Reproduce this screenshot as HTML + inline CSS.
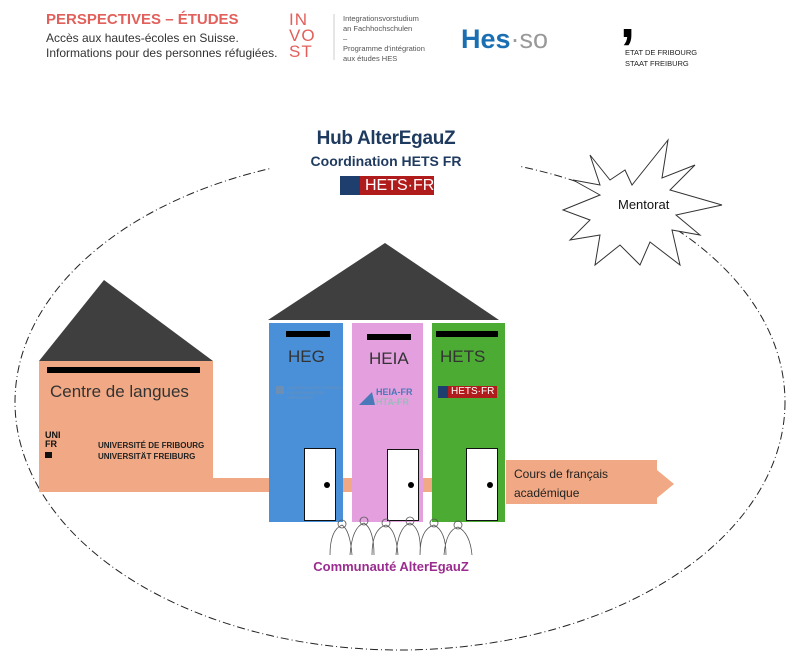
<!DOCTYPE html>
<html><head><meta charset="utf-8"><style>
body{margin:0;width:786px;height:656px;background:#fff;position:relative;overflow:hidden;font-family:"Liberation Sans",sans-serif}
.a{position:absolute;white-space:nowrap}
</style></head><body>
<svg class="a" style="left:0;top:0" width="786" height="656">
<ellipse cx="400" cy="402" rx="385" ry="248" fill="none" stroke="#222" stroke-width="1" stroke-dasharray="8,3,1,3"/>
<rect x="270" y="118" width="250" height="82" fill="#fff"/>
<polygon points="590,155 610,180 625,170 632,185 668,140 662,178 695,165 670,190 722,205 676,215 700,235 672,230 680,265 650,242 640,265 620,245 595,265 600,235 570,240 590,220 563,210 600,195 573,180 600,185" fill="#fff" stroke="#333" stroke-width="1"/>
<polygon points="104,280 39,361 213,361" fill="#3f3f3f"/>
<rect x="39" y="361" width="174" height="131" fill="#f0a984"/>
<rect x="47" y="367" width="153" height="6" fill="#000"/>
<rect x="213" y="478" width="57" height="14" fill="#f0a984"/>
<rect x="343" y="478" width="9" height="14" fill="#f0a984"/>
<rect x="423" y="478" width="9" height="14" fill="#f0a984"/>
<polygon points="385,243 268,320 499,320" fill="#3f3f3f"/>
<rect x="269" y="323" width="74" height="199" fill="#4a90d9"/>
<rect x="352" y="323" width="71" height="199" fill="#e4a0de"/>
<rect x="432" y="323" width="73" height="199" fill="#4cab32"/>
<rect x="286" y="331" width="44" height="6" fill="#000"/>
<rect x="367" y="334" width="44" height="6" fill="#000"/>
<rect x="436" y="331" width="62" height="6" fill="#000"/>
<g fill="#fff" stroke="#111" stroke-width="1">
<rect x="304.5" y="448.5" width="31" height="72"/>
<rect x="387.5" y="449.5" width="31" height="71"/>
<rect x="466.5" y="448.5" width="31" height="72"/>
</g>
<circle cx="327" cy="485" r="3" fill="#000"/><circle cx="411" cy="485" r="3" fill="#000"/><circle cx="490" cy="485" r="3" fill="#000"/>
<polygon points="506,460 657,460 657,470 674,484 657,498 657,504 506,504" fill="#f0a984"/>
<rect x="438" y="386" width="10" height="12" fill="#1e3f6e"/><rect x="448" y="386" width="49" height="12" fill="#b01c1c"/>
<rect x="340" y="176" width="20" height="19" fill="#1e3f6e"/><rect x="360" y="176" width="74" height="19" fill="#b01c1c"/>
<rect x="276" y="386" width="8" height="8" fill="#6d8fb4"/>
<polygon points="359,405 372,392 375,405" fill="#4a78b8"/>
<g fill="none" stroke="#555" stroke-width="0.8">
<path d="M330,555 q0,-25 12,-30 q8,5 10,30 M350,555 q2,-28 14,-32 q10,6 10,32 M372,555 q0,-26 14,-30 q10,4 12,30 M396,555 q2,-28 14,-32 q12,6 10,32 M420,555 q0,-26 14,-30 q12,6 12,30 M444,555 q2,-25 14,-28 q12,6 14,28"/>
<circle cx="342" cy="524" r="4"/><circle cx="364" cy="521" r="4"/><circle cx="386" cy="523" r="4"/><circle cx="410" cy="521" r="4"/><circle cx="434" cy="523" r="4"/><circle cx="458" cy="525" r="4"/>
</g>
<rect x="45" y="452" width="7" height="6" fill="#111"/>
<line x1="334" y1="14" x2="334" y2="60" stroke="#ccc"/>
</svg>
<div class="a" style="left:46px;top:11px;color:#e2605b;font-weight:bold;font-size:15px">PERSPECTIVES – ÉTUDES</div>
<div class="a" style="left:46px;top:31px;color:#333;font-size:12px;line-height:15px">Accès aux hautes-écoles en Suisse.<br>Informations pour des personnes réfugiées.</div>
<div class="a" style="left:289px;top:12px;color:#e2605b;font-size:17px;line-height:16px;letter-spacing:1px">IN<br>VO<br>ST</div>
<div class="a" style="left:343px;top:14px;color:#555;font-size:7.5px;line-height:10px">Integrationsvorstudium<br>an Fachhochschulen<br>–<br>Programme d'intégration<br>aux études HES</div>
<div class="a" style="left:461px;top:24px;font-size:27px;font-weight:bold;color:#1a6fb3">Hes<span style="color:#999;font-weight:normal">·so</span></div>
<div class="a" style="left:620px;top:-8px;font-size:54px;line-height:54px;font-weight:bold;color:#000">,</div>
<div class="a" style="left:625px;top:47px;font-size:7.5px;line-height:11px;color:#222">ETAT DE FRIBOURG<br>STAAT FREIBURG</div>
<div class="a" style="left:286px;top:128px;width:200px;text-align:center;font-weight:bold;font-size:19px;color:#1f3a5f;letter-spacing:-0.3px">Hub AlterEgauZ</div>
<div class="a" style="left:286px;top:153px;width:200px;text-align:center;font-weight:bold;font-size:14px;color:#1f3a5f">Coordination HETS FR</div>
<div class="a" style="left:365px;top:176px;color:#fff;font-size:16px;line-height:19px">HETS·FR</div>
<div class="a" style="left:618px;top:197px;font-size:13px;color:#111">Mentorat</div>
<div class="a" style="left:50px;top:382px;font-size:17px;color:#333">Centre de langues</div>
<div class="a" style="left:45px;top:431px;font-size:9px;font-weight:bold;line-height:9px;color:#111">UNI<br>FR</div>
<div class="a" style="left:98px;top:440px;font-size:8px;font-weight:bold;line-height:11px;color:#222">UNIVERSITÉ DE FRIBOURG<br>UNIVERSITÄT FREIBURG</div>
<div class="a" style="left:288px;top:347px;font-size:17px;color:#333">HEG</div>
<div class="a" style="left:369px;top:349px;font-size:17px;color:#333">HEIA</div>
<div class="a" style="left:440px;top:347px;font-size:17px;color:#333">HETS</div>
<div class="a" style="left:287px;top:385px;font-size:4px;line-height:5px;color:#6d8fb4">HAUTE ECOLE DE GESTION<br>HOCHSCHULE FÜR<br>WIRTSCHAFT</div>
<div class="a" style="left:376px;top:387px;font-size:9px;line-height:10px;color:#4a78b8;font-weight:bold">HEIA-FR<br><span style="color:#9bb">HTA-FR</span></div>
<div class="a" style="left:451px;top:386px;font-size:10px;line-height:12px;color:#fff">HETS·FR</div>
<div class="a" style="left:514px;top:465px;font-size:12px;line-height:19px;color:#222">Cours de français<br>académique</div>
<div class="a" style="left:291px;top:559px;width:200px;text-align:center;font-weight:bold;font-size:13px;color:#9b2c8f">Communauté AlterEgauZ</div>
</body></html>
